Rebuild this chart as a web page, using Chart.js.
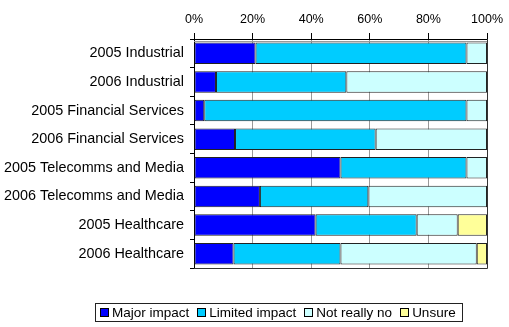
<!DOCTYPE html>
<html>
<head>
<meta charset="utf-8">
<script src="https://cdn.jsdelivr.net/npm/chart.js@4.4.0/dist/chart.umd.min.js"></script>
<style>
    html, body { margin: 0; padding: 0; background: #fff; }
    #wrap { position: relative; width: 509px; height: 327px; }
    #legend {
        position: absolute; left: 95px; top: 303px; width: 366px; height: 17px;
        border: 1px solid #222; display: flex; align-items: center;
        font: 13.5px "Liberation Sans", Arial, sans-serif; color: #000; box-sizing: content-box;
    }
    #legend .item { display: flex; align-items: center; margin-left: 4px; margin-right: 4px; white-space: nowrap; }
    #legend .box { width: 7px; height: 7px; border: 1px solid #000; margin-right: 3px; }
</style>
</head>
<body>
<div id="wrap">
    <canvas id="chart" width="509" height="327"></canvas>
    <div id="legend"></div>
</div>
<script>
const categories = ['2005 Industrial', '2006 Industrial', '2005 Financial Services', '2006 Financial Services',
    '2005 Telecomms and Media', '2006 Telecomms and Media', '2005 Healthcare', '2006 Healthcare'];
const seriesNames = ['Major impact', 'Limited impact', 'Not really no', 'Unsure'];
const seriesColors = ['#0000FF', '#00CCFF', '#CCFFFF', '#FFFF99'];
const majorImpact = [21, 7.5, 3.5, 14, 50, 22.5, 41.5, 13.5];
const limitedImpact = [72, 44.5, 89.5, 48, 43, 37, 34.5, 36.5];
const notReally = [7, 48, 7, 38, 7, 40.5, 14, 46.5];
const unsure = [0, 0, 0, 0, 0, 0, 10, 3.5];
const tickValues = [0, 20, 40, 60, 80, 100];

const seriesValues = [majorImpact, limitedImpact, notReally, unsure];
const font = '"Liberation Sans", Arial, sans-serif';

/*frame around plot area*/
const frame = {
    id: 'frame',
    afterDraw(chart) {
        const a = chart.chartArea;
        const ctx = chart.ctx;
        ctx.save();
        ctx.strokeStyle = '#333';
        ctx.lineWidth = 1;
        ctx.beginPath();
        ctx.moveTo(a.left, Math.round(a.bottom) + 0.5);
        ctx.lineTo(a.right + 0.5, Math.round(a.bottom) + 0.5);
        ctx.lineTo(a.right + 0.5, a.top);
        ctx.stroke();
        ctx.strokeStyle = '#999';
        ctx.beginPath();
        ctx.moveTo(a.left, Math.round(a.top) + 2.5);
        ctx.lineTo(a.right, Math.round(a.top) + 2.5);
        ctx.stroke();
        ctx.restore();
    }
};

new Chart(document.getElementById('chart').getContext('2d'), {
    type: 'bar',
    data: {
        labels: categories,
        datasets: seriesNames.map(function (name, i) {
            return {
                label: name,
                data: seriesValues[i],
                backgroundColor: seriesColors[i],
                borderColor: '#222',
                borderWidth: function (c) { return c.raw ? 1 : 0; },
                borderSkipped: false,
                barPercentage: 0.75,
                categoryPercentage: 1
            };
        })
    },
    options: {
        indexAxis: 'y',
        responsive: false,
        animation: false,
        layout: { padding: { top: 0, right: 18, bottom: 59, left: 0 } },
        plugins: { legend: { display: false }, tooltip: { enabled: false } },
        scales: {
            x: {
                position: 'top',
                stacked: true,
                min: 0,
                max: 100,
                afterBuildTicks: function (scale) {
                    scale.ticks = tickValues.map(function (v) { return { value: v }; });
                },
                afterFit: function (scale) { scale.height = 39; },
                ticks: {
                    callback: function (v) { return v + '%'; },
                    color: '#000',
                    font: { family: font, size: 12.5 },
                    padding: 6,
                    maxRotation: 0
                },
                grid: {
                    color: function (c) { return c.index === 5 ? '#333' : '#999'; },
                    tickColor: '#000',
                    tickLength: 6
                },
                border: { color: '#000', width: 1 }
            },
            y: {
                stacked: true,
                afterFit: function (scale) { scale.width = 194; },
                ticks: {
                    color: '#000',
                    font: { family: font, size: 14.4 },
                    padding: 6
                },
                grid: {
                    drawOnChartArea: false,
                    tickColor: '#000',
                    tickLength: 4
                },
                border: { color: '#000', width: 1 }
            }
        }
    },
    plugins: [frame]
});

const legend = document.getElementById('legend');
seriesNames.forEach(function (name, i) {
    const item = document.createElement('div');
    item.className = 'item';
    const box = document.createElement('span');
    box.className = 'box';
    box.style.background = seriesColors[i];
    const text = document.createElement('span');
    text.textContent = name;
    item.appendChild(box);
    item.appendChild(text);
    legend.appendChild(item);
});
</script>
</body>
</html>
